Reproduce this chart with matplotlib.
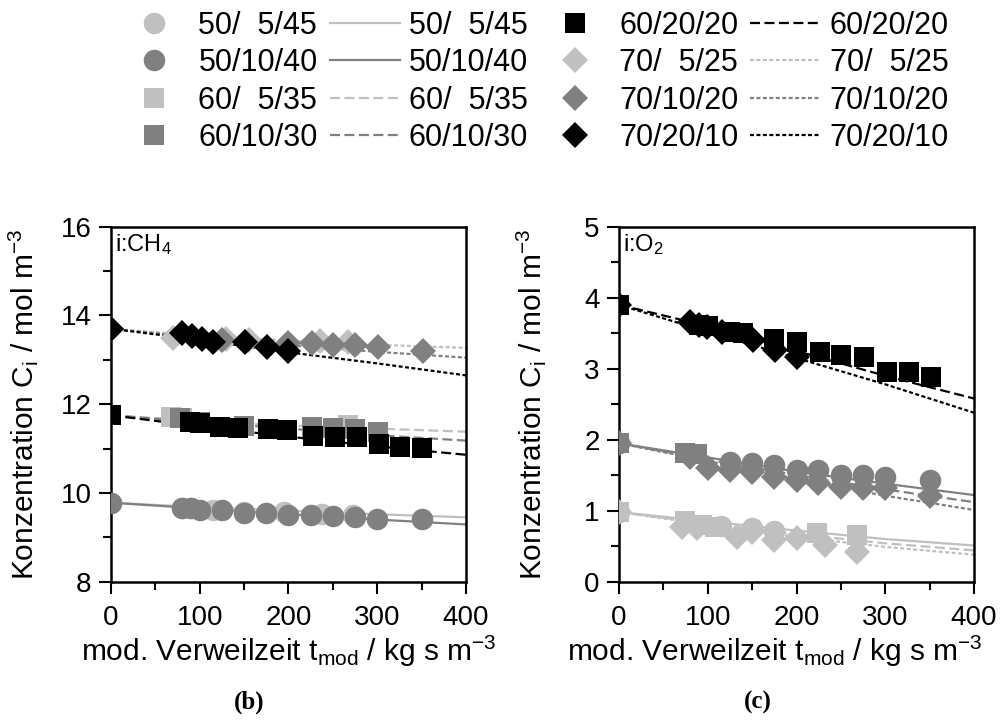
import matplotlib.pyplot as plt
from matplotlib.lines import Line2D

plt.rcParams['font.family'] = ['Liberation Sans', 'DejaVu Sans']
plt.rcParams['mathtext.fontset'] = 'custom'
plt.rcParams['mathtext.rm'] = 'Liberation Sans'
plt.rcParams['mathtext.it'] = 'Liberation Sans:italic'
plt.rcParams['mathtext.default'] = 'regular'

# ==== data ====
labels = ['50/  5/45', '50/10/40', '60/  5/35', '60/10/30',
          '60/20/20', '70/  5/25', '70/10/20', '70/20/10']
colors = ['#c0c0c0', '#808080', '#c0c0c0', '#808080',
          '#000000', '#c0c0c0', '#808080', '#000000']
markers = ['o', 'o', 's', 's', 's', 'D', 'D', 'D']

# fit curves are read at these residence times
fit_x = [0, 100, 200, 300, 400]

# --- panel (b): CH4 ---
ch4_x = [
    [0, 80, 90, 115, 150, 195, 238, 273],
    [0, 80, 90, 100, 125, 150, 175, 200, 225, 250, 275, 300, 350],
    [0, 68, 80, 267],
    [0, 78, 100, 150, 226, 250, 275, 301],
    [0, 89, 100, 123, 143, 177, 198, 228, 252, 277, 302, 326, 350],
    [0, 70, 130, 155, 235, 267],
    [0, 125, 200, 226, 250, 275, 301, 352],
    [0, 80, 91, 103, 115, 151, 176, 200],
]
ch4_y = [
    [9.78, 9.67, 9.66, 9.62, 9.58, 9.56, 9.53, 9.51],
    [9.77, 9.65, 9.65, 9.61, 9.61, 9.55, 9.54, 9.50, 9.50, 9.48, 9.45, 9.41, 9.41],
    [11.75, 11.72, 11.68, 11.53],
    [11.75, 11.68, 11.6, 11.5, 11.49, 11.46, 11.43, 11.38],
    [11.75, 11.6, 11.58, 11.48, 11.46, 11.43, 11.42, 11.29, 11.27, 11.27, 11.1, 11.04, 11.02],
    [13.7, 13.5, 13.48, 13.45, 13.42, 13.4],
    [13.7, 13.45, 13.37, 13.37, 13.33, 13.33, 13.3, 13.2],
    [13.7, 13.6, 13.54, 13.48, 13.41, 13.41, 13.3, 13.2],
]
ch4_fit = [
    [9.78, 9.68, 9.6, 9.52, 9.45],
    [9.78, 9.65, 9.52, 9.4, 9.29],
    [11.75, 11.62, 11.52, 11.45, 11.38],
    [11.75, 11.6, 11.45, 11.3, 11.18],
    [11.75, 11.5, 11.27, 11.05, 10.86],
    [13.7, 13.55, 13.43, 13.34, 13.27],
    [13.7, 13.5, 13.33, 13.18, 13.05],
    [13.7, 13.45, 13.17, 12.92, 12.65],
]

# --- panel (c): O2 ---
o2_x = [
    [0, 115, 150, 175],
    [0, 125, 150, 175, 200, 224, 250, 275, 300, 350],
    [0, 74, 93, 108, 223, 268],
    [0, 74, 88],
    [0, 90, 100, 125, 140, 175, 200, 226, 250, 276, 302, 327, 351],
    [0, 71, 88, 133, 150, 175, 200, 232, 268],
    [0, 80, 100, 125, 150, 175, 200, 224, 250, 275, 300, 350],
    [0, 80, 90, 99, 116, 151, 176, 201],
]
o2_y = [
    [0.98, 0.78, 0.75, 0.72],
    [1.95, 1.69, 1.67, 1.64, 1.57, 1.57, 1.50, 1.50, 1.48, 1.43],
    [0.98, 0.85, 0.80, 0.77, 0.68, 0.66],
    [1.95, 1.81, 1.80],
    [3.9, 3.62, 3.6, 3.52, 3.5, 3.42, 3.38, 3.24, 3.19, 3.16, 2.95, 2.95, 2.88],
    [0.98, 0.77, 0.75, 0.63, 0.70, 0.59, 0.61, 0.52, 0.42],
    [1.95, 1.75, 1.60, 1.57, 1.55, 1.48, 1.43, 1.39, 1.34, 1.32, 1.32, 1.20],
    [3.9, 3.66, 3.62, 3.59, 3.52, 3.4, 3.26, 3.16],
]
o2_fit = [
    [0.98, 0.85, 0.72, 0.6, 0.51],
    [1.95, 1.75, 1.55, 1.38, 1.22],
    [0.98, 0.82, 0.67, 0.54, 0.44],
    [1.95, 1.72, 1.5, 1.3, 1.12],
    [3.9, 3.6, 3.25, 2.9, 2.58],
    [0.98, 0.8, 0.63, 0.49, 0.38],
    [1.95, 1.7, 1.45, 1.21, 1.01],
    [3.9, 3.52, 3.15, 2.78, 2.38],
]

line_styles = ['-', '-', (0, (4.5, 2)), (0, (4.5, 2)), (0, (4.5, 2)),
               (0, (1.8, 1.1)), (0, (1.8, 1.1)), (0, (1.8, 1.1))]
marker_sizes = {'o': 15.5, 's': 14.5, 'D': 13.5}


def draw_panel(ax, xs, ys, fits, ylim, yticks, yminor, species, xlab_pos):
    for i in range(8):
        ax.plot(fit_x, fits[i], color=colors[i], linestyle=line_styles[i],
                linewidth=1.6, zorder=1)
    for i in range(8):
        ax.plot(xs[i], ys[i], linestyle='none', marker=markers[i],
                markersize=marker_sizes[markers[i]], color=colors[i],
                markeredgewidth=0, zorder=2 + i)
    ax.set_xlim(0, 400)
    ax.set_ylim(*ylim)
    ax.set_xticks([0, 100, 200, 300, 400])
    ax.set_xticks([50, 150, 250, 350], minor=True)
    ax.set_yticks(yticks)
    ax.set_yticks(yminor, minor=True)
    ax.tick_params(which='both', direction='out', width=1.5, labelsize=20,
                   top=False, right=False)
    ax.tick_params(which='major', length=8.5)
    ax.tick_params(axis='x', which='major', pad=8.5)
    ax.tick_params(axis='y', which='major', pad=5.5)
    ax.tick_params(which='minor', length=5.5)
    for sp in ax.spines.values():
        sp.set_linewidth(1.8)
    ax.set_xlabel(r'mod. Verweilzeit t$_{mod}$ / kg s m$^{-3}$', fontsize=21.5)
    ax.xaxis.set_label_coords(xlab_pos, -0.148)
    ax.xaxis.label.set_verticalalignment('top')
    ax.set_ylabel(r'Konzentration C$_{i}$ / mol m$^{-3}$', fontsize=21.5)
    ax.yaxis.set_label_coords(-0.2, 0.5)
    ax.text(0.012, 0.985, species, transform=ax.transAxes, ha='left',
            va='top', fontsize=17)


fig = plt.figure(figsize=(10.02, 7.24), dpi=100)
ax_b = fig.add_axes([0.1108, 0.1966, 0.3542, 0.4902])
ax_c = fig.add_axes([0.6178, 0.1966, 0.3543, 0.4902])

draw_panel(ax_b, ch4_x, ch4_y, ch4_fit, (8, 16), [8, 10, 12, 14, 16],
           [9, 11, 13, 15], r'i:CH$_4$', 0.5)
draw_panel(ax_c, o2_x, o2_y, o2_fit, (0, 5), [0, 1, 2, 3, 4, 5],
           [0.5, 1.5, 2.5, 3.5, 4.5], r'i:O$_2$', 0.44)

fig.text(0.249, 0.03, '(b)', ha='center', va='center', fontsize=18,
         fontweight='bold', family='Liberation Serif')
fig.text(0.756, 0.03, '(c)', ha='center', va='center', fontsize=18,
         fontweight='bold', family='Liberation Serif')

# legend: markers and lines side by side
mk_handles = [Line2D([], [], linestyle='none', marker=markers[i],
                     markersize=marker_sizes[markers[i]], color=colors[i],
                     markeredgewidth=0) for i in range(8)]
ln_handles = [Line2D([], [], linestyle=line_styles[i], color=colors[i],
                     linewidth=1.6) for i in range(8)]
handles = mk_handles[:4] + ln_handles[:4] + mk_handles[4:] + ln_handles[4:]
leg_labels = labels[:4] + labels[:4] + labels[4:] + labels[4:]
fig.legend(handles, leg_labels, ncol=4, loc='upper left',
           bbox_to_anchor=(0.119, 0.985), frameon=False, fontsize=22,
           borderpad=0, borderaxespad=0, handlelength=2.29,
           handletextpad=0.3, columnspacing=0.39, labelspacing=0.24)

fig.savefig('out.png', dpi=100)
